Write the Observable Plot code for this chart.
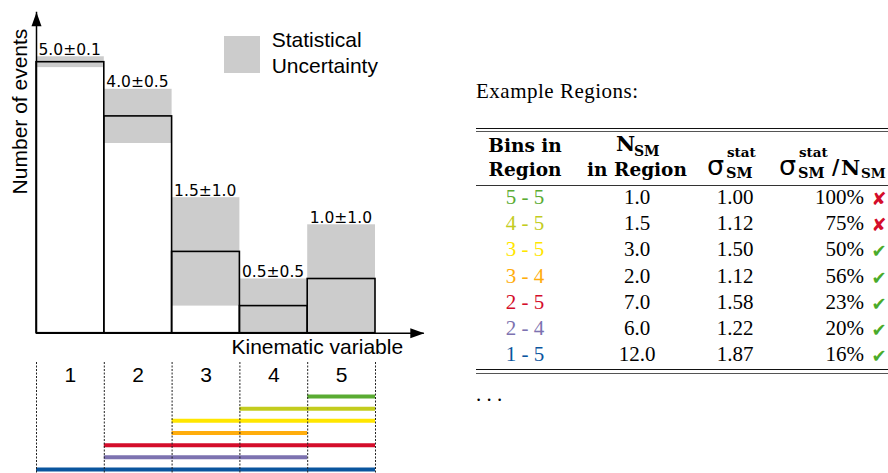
<!DOCTYPE html>
<html><head><meta charset="utf-8">
<script src="https://cdn.jsdelivr.net/npm/d3@7"></script>
<script src="https://cdn.jsdelivr.net/npm/@observablehq/plot@0.6"></script>
<style>
html,body{margin:0;padding:0;background:#fff;overflow:hidden;}
#wrap{position:relative;width:888px;height:473px;overflow:hidden;background:#fff;}
.abs{position:absolute;white-space:nowrap;}
svg{position:absolute;}
</style></head><body><div id="wrap"></div>
<script>
// ---- data ----
const bins = [1, 2, 3, 4, 5];
const binEdges = [0, 1, 2, 3, 4, 5];
const binValues = [5.0, 4.0, 1.5, 0.5, 1.0];
const binErrors = [0.1, 0.5, 1.0, 0.5, 1.0];
const binLabels = ["5.0±0.1", "4.0±0.5", "1.5±1.0", "0.5±0.5", "1.0±1.0"];
const yAxisEnd = 5.92;
const xAxisEnd = 5.72;
const regionNames = ["5 - 5", "4 - 5", "3 - 5", "3 - 4", "2 - 5", "2 - 4", "1 - 5"];
const regionStart = [5, 4, 3, 3, 2, 2, 1];
const regionEnd = [5, 5, 5, 4, 5, 4, 5];
const regionColors = ["#5aab32", "#c3cc1e", "#ffe600", "#ffad0d", "#d40d2b", "#7d72b0", "#0a559e"];
const nSM = ["1.0", "1.5", "3.0", "2.0", "7.0", "6.0", "12.0"];
const sigmaSM = ["1.00", "1.12", "1.50", "1.12", "1.58", "1.22", "1.87"];
const ratioText = ["100%", "75%", "50%", "56%", "23%", "20%", "16%"];
const passes = [false, false, true, true, true, true, true];

const wrap = document.getElementById("wrap");
const hist = bins.map((b, i) => ({bin: b, value: binValues[i], err: binErrors[i], label: binLabels[i]}));
const regions = regionNames.map((n, i) => ({name: n, start: regionStart[i], end: regionEnd[i], color: regionColors[i], row: i + 1}));

const arrowHead = {draw(ctx) { ctx.moveTo(0, 0); ctx.lineTo(-5, 14); ctx.lineTo(5, 14); ctx.closePath(); }};
const SANS = "Liberation Sans";

const topPlot = Plot.plot({
  width: 440, height: 362, marginLeft: 0, marginTop: 0, marginRight: 0, marginBottom: 0,
  x: {domain: [0, 5], range: [36, 375], axis: null},
  y: {domain: [0, 6], range: [332.7, 7.5], axis: null},
  style: {background: "transparent", overflow: "visible"},
  marks: [
    Plot.rect(hist, {x1: d => d.bin - 1, x2: "bin", y1: d => Math.max(0, d.value - d.err), y2: d => d.value + d.err, fill: "#cccccc"}),
    Plot.rect(hist, {x1: d => d.bin - 1, x2: "bin", y1: 0, y2: "value", fill: "none", stroke: "#000", strokeWidth: 1.6}),
    Plot.text(hist, {x: d => d.bin - 1, y: d => d.value + d.err, text: "label", textAnchor: "start", lineAnchor: "bottom", dx: 2, dy: -2, fontFamily: "DejaVu Sans", fontSize: 15.5, fill: "#000"}),
    Plot.ruleX([0], {x: d => d, y1: 0, y2: yAxisEnd, stroke: "#000", strokeWidth: 1.5}),
    Plot.ruleY([0], {y: d => d, x1: 0, x2: xAxisEnd, stroke: "#000", strokeWidth: 1.5}),
    Plot.dot([yAxisEnd], {x: 0, y: d => d, symbol: arrowHead, fill: "#000", stroke: "none"}),
    Plot.dot([xAxisEnd], {x: d => d, y: 0, symbol: arrowHead, rotate: 90, fill: "#000", stroke: "none"}),
    Plot.text(["Number of events"], {text: d => d, frameAnchor: "top-left", dx: 20, dy: 111, rotate: -90, textAnchor: "middle", lineAnchor: "middle", fontFamily: SANS, fontSize: 21, fill: "#000"}),
    Plot.text(["Kinematic variable"], {text: d => d, frameAnchor: "top-left", dx: 231, dy: 353, textAnchor: "start", lineAnchor: "bottom", fontFamily: SANS, fontSize: 21, fill: "#000"})
  ]
});
topPlot.style.left = "0px"; topPlot.style.top = "0px";
wrap.appendChild(topPlot);

const botPlot = Plot.plot({
  width: 440, height: 115, marginLeft: 0, marginTop: 4, marginRight: 0, marginBottom: 0,
  x: {domain: [0, 5], range: [36, 375], axis: null},
  y: {domain: [1, 7], range: [38, 111], axis: null},
  color: {type: "identity"},
  style: {background: "transparent", overflow: "visible"},
  marks: [
    Plot.ruleY(regions, {x1: d => d.start - 1, x2: "end", y: "row", stroke: "color", strokeWidth: 4}),
    Plot.ruleX(binEdges, {x: d => d, stroke: "#222", strokeWidth: 1, strokeDasharray: "2,1.5"}),
    Plot.text(bins, {x: d => d - 0.5, text: d => String(d), frameAnchor: "top", textAnchor: "middle", lineAnchor: "bottom", dy: 19.7, fontFamily: SANS, fontSize: 21, fill: "#000"})
  ]
});
botPlot.style.left = "0px"; botPlot.style.top = "358px";
wrap.appendChild(botPlot);

// ---- HTML helpers for legend + table ----
const METRICS = {"Liberation Serif": [0.891, 0.216], "Liberation Sans": [0.905, 0.212], "DejaVu Serif": [0.928, 0.236], "DejaVu Sans": [0.928, 0.236]};
function put(text, x, baseline, o = {}) {
  const fam = o.family || "Liberation Serif", size = o.size || 21;
  const [a, dsc] = METRICS[fam];
  const d = document.createElement("div");
  d.className = "abs";
  d.textContent = text;
  d.style.fontFamily = `"${fam}"`;
  d.style.fontSize = size + "px";
  d.style.fontWeight = o.weight || "normal";
  d.style.color = o.color || "#000";
  d.style.lineHeight = ((a + dsc) * size) + "px";
  d.style.left = x + "px";
  d.style.top = (baseline - a * size) + "px";
  if (o.ls) d.style.letterSpacing = o.ls + "px";
  const anchor = o.anchor || "start";
  if (anchor === "middle") d.style.transform = "translateX(-50%)";
  if (anchor === "end") d.style.transform = "translateX(-100%)";
  wrap.appendChild(d);
  return d;
}
function hr(y, h, color) {
  const d = document.createElement("div");
  d.className = "abs";
  d.style.left = "476px"; d.style.width = "420px";
  d.style.top = y + "px"; d.style.height = h + "px";
  d.style.background = color;
  wrap.appendChild(d);
}
function box(x, y, w, h, color) {
  const d = document.createElement("div");
  d.className = "abs";
  Object.assign(d.style, {left: x + "px", top: y + "px", width: w + "px", height: h + "px", background: color});
  wrap.appendChild(d);
}

// legend
box(224, 36, 36, 36.7, "#cccccc");
put("Statistical", 271.7, 46.7, {family: SANS, size: 21});
put("Uncertainty", 271.7, 72.7, {family: SANS, size: 21});

// table
put("Example Regions:", 476, 99, {size: 21, ls: 0.5});
hr(127.6, 1.4, "#111");
hr(131.2, 0.9, "#555");
hr(184.5, 1.1, "#333");
hr(368.7, 1.3, "#111");
hr(372.8, 0.9, "#555");

const HB = {family: "DejaVu Serif", weight: "bold"};
put("Bins in", 525, 151.7, {...HB, size: 18.5, anchor: "middle"});
put("Region", 525, 176, {...HB, size: 18.5, anchor: "middle"});
put("N", 616, 151.7, {...HB, size: 21});
put("SM", 634, 155.5, {...HB, size: 14});
put("in Region", 637, 176, {...HB, size: 18.5, anchor: "middle"});
// sigma col
put("σ", 707, 175, {family: "DejaVu Sans", size: 27});
put("stat", 727, 158, {...HB, size: 13.5});
put("SM", 726, 178.5, {...HB, size: 14.5});
// ratio col
put("σ", 779, 175, {family: "DejaVu Sans", size: 27});
put("stat", 799, 158, {...HB, size: 13.5});
put("SM", 798, 178.5, {...HB, size: 14.5});
put("/", 832, 175, {...HB, size: 20});
put("N", 841, 175, {...HB, size: 21});
put("SM", 861, 178.5, {...HB, size: 13.5});

regions.forEach((r, i) => {
  const bl = 205 + i * 26.1;
  put(r.name, 525, bl, {anchor: "middle", color: r.color});
  put(nSM[i], 637, bl, {anchor: "middle"});
  put(sigmaSM[i], 735, bl, {anchor: "middle"});
  put(ratioText[i], 864, bl, {anchor: "end"});
  put(passes[i] ? "✔" : "✘", 871.5, bl + 1, {family: "DejaVu Sans", size: 18, color: passes[i] ? "#4aab2a" : "#d40d2b"});
});
put(". . .", 476, 401.5, {size: 21});
</script></body></html>
